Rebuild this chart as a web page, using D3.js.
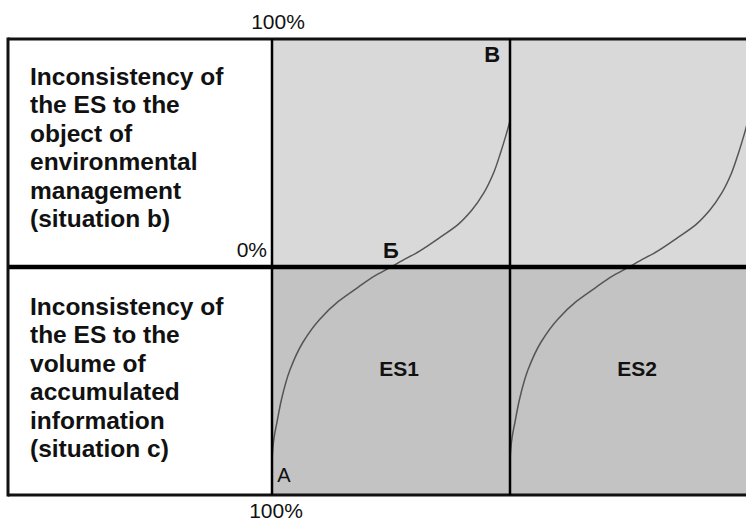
<!DOCTYPE html>
<html>
<head>
<meta charset="utf-8">
<script src="https://cdn.jsdelivr.net/npm/d3@7"></script>
<style>
  html, body { margin: 0; padding: 0; background: #fff; }
  svg { display: block; }
  text { font-family: "Liberation Sans", Arial, sans-serif; }
</style>
</head>
<body>
<div id="chart"></div>
<script>
// ---- data ----
const systems = ["ES1", "ES2"];
const rowLabels = [
  ["Inconsistency of", "the ES to the", "object of", "environmental", "management", "(situation b)"],
  ["Inconsistency of", "the ES to the", "volume of", "accumulated", "information", "(situation c)"]
];
const axisTickLabels = { top: "100%", middle: "0%", bottom: "100%" };
const pointLabels = ["А", "Б", "В"];
// curve: position within a system column (0..1) vs inconsistency (-100 bottom .. +100 top)
const curveX = [0.000, 0.003, 0.010, 0.021, 0.040, 0.076, 0.13, 0.20, 0.28, 0.36, 0.43, 0.50, 0.53, 0.62, 0.706, 0.78, 0.84, 0.89, 0.93, 0.96, 0.985, 1.0];
const curveV = [-86, -80, -74, -68, -58, -45, -33, -23, -15, -9, -4, 0, 1.8, 7, 13, 18.5, 25, 32.5, 41, 50, 58.5, 64];

// ---- layout ----
const W = 746, H = 525;
const left = 8, labelColRight = 272, colW = 238;
const yTop = 39, yMid = 267, yBot = 495;

const svg = d3.select("#chart").append("svg").attr("width", W).attr("height", H);

const y = d3.scaleLinear().domain([-100, 100]).range([yBot, yTop]);
const xCol = d3.scaleBand().domain(systems).range([labelColRight, labelColRight + colW * systems.length]).paddingInner(0);

// panel fills
systems.forEach(s => {
  svg.append("rect").attr("x", xCol(s)).attr("y", y(100)).attr("width", xCol.bandwidth()).attr("height", y(0) - y(100)).attr("fill", "#d9d9d9");
  svg.append("rect").attr("x", xCol(s)).attr("y", y(0)).attr("width", xCol.bandwidth()).attr("height", y(-100) - y(0)).attr("fill", "#c3c3c3");
});

// curves
const pts = curveX.map((d, i) => ({ x: d, v: curveV[i] }));
systems.forEach(s => {
  const xs = d3.scaleLinear().domain([0, 1]).range([xCol(s), xCol(s) + xCol.bandwidth()]);
  const line = d3.line().x(d => xs(d.x)).y(d => y(d.v)).curve(d3.curveMonotoneY);
  svg.append("path").datum(pts).attr("d", line).attr("fill", "none").attr("stroke", "#555").attr("stroke-width", 1.5);
});

// grid lines
svg.append("line").attr("x1", left).attr("x2", W).attr("y1", y(100)).attr("y2", y(100)).attr("stroke", "#111").attr("stroke-width", 3);
svg.append("line").attr("x1", left).attr("x2", W).attr("y1", y(0)).attr("y2", y(0)).attr("stroke", "#000").attr("stroke-width", 4.5);
svg.append("line").attr("x1", left).attr("x2", W).attr("y1", y(-100)).attr("y2", y(-100)).attr("stroke", "#111").attr("stroke-width", 3);
svg.append("line").attr("x1", left).attr("x2", left).attr("y1", y(100) - 1.5).attr("y2", y(-100) + 1.5).attr("stroke", "#111").attr("stroke-width", 3);
systems.forEach(s => {
  svg.append("line").attr("x1", xCol(s)).attr("x2", xCol(s)).attr("y1", y(100)).attr("y2", y(-100)).attr("stroke", "#000").attr("stroke-width", 2.5);
});
svg.append("line").attr("x1", xCol("ES2") + colW).attr("x2", xCol("ES2") + colW).attr("y1", y(100)).attr("y2", y(-100)).attr("stroke", "#000").attr("stroke-width", 2.5);

// row labels
const rowBase = [85, 315];
rowLabels.forEach((lines, r) => {
  const t = svg.append("text").attr("x", 30).attr("y", rowBase[r]).attr("font-size", 24.5).attr("font-weight", "bold").attr("fill", "#111");
  lines.forEach((ln, i) => t.append("tspan").attr("x", 30).attr("y", rowBase[r] + i * 28.4).text(ln));
});

// axis tick labels
svg.append("text").attr("x", 278).attr("y", 29).attr("text-anchor", "middle").attr("font-size", 21).attr("fill", "#111").text(axisTickLabels.top);
svg.append("text").attr("x", 267).attr("y", 257).attr("text-anchor", "end").attr("font-size", 21).attr("fill", "#111").text(axisTickLabels.middle);
svg.append("text").attr("x", 276).attr("y", 518).attr("text-anchor", "middle").attr("font-size", 21).attr("fill", "#111").text(axisTickLabels.bottom);

// system labels
systems.forEach(s => {
  svg.append("text").attr("x", xCol(s) + xCol.bandwidth() / 2 + 8).attr("y", y(-48)).attr("text-anchor", "middle").attr("font-size", 21).attr("font-weight", "bold").attr("fill", "#111").text(s);
});

// point labels
const xs1 = d3.scaleLinear().domain([0, 1]).range([xCol("ES1"), xCol("ES1") + colW]);
svg.append("text").attr("x", xs1(0.05)).attr("y", 482).attr("text-anchor", "middle").attr("font-size", 20).attr("fill", "#111").text(pointLabels[0]);
svg.append("text").attr("x", xs1(0.5)).attr("y", 258).attr("text-anchor", "middle").attr("font-size", 22).attr("font-weight", "bold").attr("fill", "#111").text(pointLabels[1]);
svg.append("text").attr("x", xs1(0.925)).attr("y", 62).attr("text-anchor", "middle").attr("font-size", 22).attr("font-weight", "bold").attr("fill", "#111").text(pointLabels[2]);
</script>
</body>
</html>
